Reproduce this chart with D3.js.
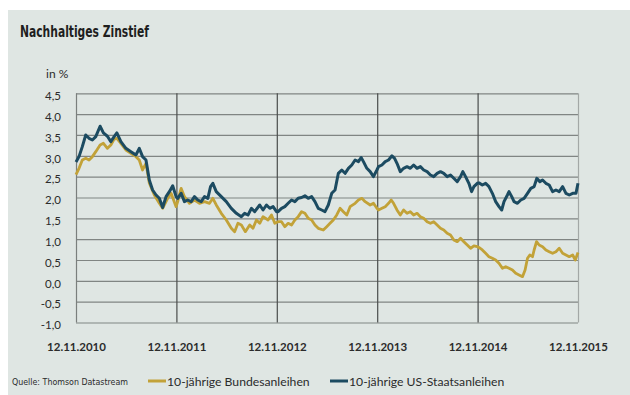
<!DOCTYPE html>
<html>
<head>
<meta charset="utf-8">
<script src="https://cdn.jsdelivr.net/npm/d3@7"></script>
<style>
  body { margin: 0; background: #fff; }
  #chart { width: 630px; height: 395px; }
</style>
</head>
<body>
<div id="chart"></div>
<script>
// Nachhaltiges Zinstief: 10-year yields, Germany vs. US

const title = "Nachhaltiges Zinstief";
const unitLabel = "in %";
const source = "Quelle: Thomson Datastream";

// x axis: decimal years, ticks on 12.11. of each year
const xTicks = [2010.87, 2011.87, 2012.87, 2013.87, 2014.87, 2015.87];
const xTickLabels = ["12.11.2010", "12.11.2011", "12.11.2012", "12.11.2013", "12.11.2014", "12.11.2015"];
const yTicks = [-1, -0.5, 0, 0.5, 1, 1.5, 2, 2.5, 3, 3.5, 4, 4.5];

const seriesNames = ["10-jährige Bundesanleihen", "10-jährige US-Staatsanleihen"];

// [decimal year, yield in %]
const bund = [
  [2010.870, 2.55], [2010.900, 2.70], [2010.933, 2.90], [2010.967, 2.94], [2011.000, 2.90],
  [2011.033, 2.98], [2011.067, 3.10], [2011.110, 3.26], [2011.143, 3.30], [2011.183, 3.18],
  [2011.217, 3.26], [2011.250, 3.40], [2011.277, 3.42], [2011.317, 3.30], [2011.367, 3.14],
  [2011.417, 3.06], [2011.467, 2.98], [2011.500, 2.90], [2011.533, 2.66], [2011.567, 2.82],
  [2011.600, 2.35], [2011.650, 2.06], [2011.700, 1.86], [2011.733, 1.74], [2011.783, 1.98],
  [2011.817, 2.10], [2011.867, 1.78], [2011.883, 1.90], [2011.917, 2.22], [2011.950, 2.02],
  [2012.000, 1.86], [2012.050, 1.94], [2012.100, 1.86], [2012.150, 1.90], [2012.200, 1.86],
  [2012.233, 1.98], [2012.267, 1.82], [2012.317, 1.62], [2012.367, 1.46], [2012.417, 1.26],
  [2012.450, 1.18], [2012.483, 1.38], [2012.517, 1.34], [2012.557, 1.18], [2012.600, 1.34],
  [2012.633, 1.26], [2012.667, 1.46], [2012.700, 1.38], [2012.733, 1.54], [2012.783, 1.46],
  [2012.817, 1.58], [2012.850, 1.38], [2012.883, 1.42], [2012.917, 1.42], [2012.950, 1.30],
  [2012.983, 1.38], [2013.017, 1.34], [2013.050, 1.46], [2013.083, 1.54], [2013.117, 1.66],
  [2013.150, 1.62], [2013.183, 1.50], [2013.217, 1.46], [2013.250, 1.34], [2013.283, 1.26],
  [2013.333, 1.22], [2013.367, 1.30], [2013.400, 1.38], [2013.433, 1.46], [2013.467, 1.58],
  [2013.500, 1.74], [2013.533, 1.66], [2013.567, 1.58], [2013.600, 1.78], [2013.650, 1.86],
  [2013.683, 1.94], [2013.717, 1.98], [2013.750, 1.90], [2013.800, 1.82], [2013.833, 1.86],
  [2013.867, 1.74], [2013.883, 1.70], [2013.917, 1.74], [2013.950, 1.78], [2013.983, 1.86],
  [2014.010, 1.94], [2014.033, 1.86], [2014.067, 1.70], [2014.100, 1.58], [2014.133, 1.70],
  [2014.167, 1.62], [2014.200, 1.66], [2014.233, 1.58], [2014.267, 1.62], [2014.300, 1.54],
  [2014.333, 1.50], [2014.367, 1.42], [2014.400, 1.38], [2014.433, 1.42], [2014.467, 1.34],
  [2014.500, 1.26], [2014.533, 1.22], [2014.567, 1.14], [2014.600, 1.10], [2014.633, 0.98],
  [2014.667, 0.94], [2014.700, 1.02], [2014.733, 0.94], [2014.767, 0.86], [2014.800, 0.78],
  [2014.833, 0.84], [2014.867, 0.82], [2014.883, 0.80], [2014.917, 0.74], [2014.950, 0.66],
  [2014.983, 0.58], [2015.017, 0.54], [2015.050, 0.50], [2015.083, 0.42], [2015.117, 0.30],
  [2015.150, 0.34], [2015.183, 0.30], [2015.217, 0.26], [2015.250, 0.18], [2015.283, 0.14],
  [2015.317, 0.10], [2015.343, 0.26], [2015.367, 0.54], [2015.390, 0.62], [2015.417, 0.58],
  [2015.433, 0.74], [2015.457, 0.94], [2015.483, 0.86], [2015.517, 0.82], [2015.550, 0.74],
  [2015.583, 0.70], [2015.617, 0.66], [2015.650, 0.70], [2015.683, 0.78], [2015.717, 0.66],
  [2015.750, 0.62], [2015.783, 0.58], [2015.817, 0.62], [2015.843, 0.50], [2015.870, 0.68]
];

const us = [
  [2010.870, 2.85], [2010.900, 2.98], [2010.933, 3.22], [2010.967, 3.50], [2011.000, 3.42],
  [2011.033, 3.38], [2011.067, 3.46], [2011.110, 3.71], [2011.143, 3.55], [2011.183, 3.47],
  [2011.217, 3.34], [2011.250, 3.46], [2011.277, 3.55], [2011.317, 3.34], [2011.367, 3.18],
  [2011.417, 3.10], [2011.467, 3.02], [2011.500, 3.18], [2011.533, 2.98], [2011.567, 2.90],
  [2011.600, 2.42], [2011.633, 2.18], [2011.667, 2.06], [2011.700, 1.98], [2011.733, 1.76],
  [2011.767, 2.02], [2011.800, 2.14], [2011.833, 2.28], [2011.867, 2.02], [2011.883, 1.98],
  [2011.917, 2.10], [2011.950, 1.90], [2011.983, 1.94], [2012.017, 1.90], [2012.050, 2.02],
  [2012.083, 1.94], [2012.117, 1.90], [2012.150, 2.02], [2012.183, 1.98], [2012.210, 2.26],
  [2012.233, 2.34], [2012.267, 2.14], [2012.317, 2.02], [2012.367, 1.90], [2012.417, 1.74],
  [2012.467, 1.62], [2012.517, 1.54], [2012.550, 1.62], [2012.583, 1.58], [2012.617, 1.74],
  [2012.650, 1.66], [2012.700, 1.82], [2012.733, 1.70], [2012.767, 1.82], [2012.800, 1.74],
  [2012.833, 1.78], [2012.867, 1.66], [2012.883, 1.66], [2012.917, 1.74], [2012.950, 1.78],
  [2012.983, 1.86], [2013.017, 1.94], [2013.050, 1.90], [2013.083, 1.98], [2013.117, 2.00],
  [2013.150, 2.04], [2013.183, 1.98], [2013.217, 2.02], [2013.250, 1.90], [2013.283, 1.74],
  [2013.317, 1.70], [2013.350, 1.66], [2013.383, 1.82], [2013.417, 2.10], [2013.450, 2.18],
  [2013.483, 2.58], [2013.517, 2.66], [2013.550, 2.58], [2013.583, 2.70], [2013.617, 2.78],
  [2013.650, 2.90], [2013.683, 2.86], [2013.710, 2.96], [2013.733, 2.86], [2013.767, 2.70],
  [2013.800, 2.62], [2013.833, 2.50], [2013.867, 2.66], [2013.883, 2.74], [2013.917, 2.78],
  [2013.950, 2.86], [2013.983, 2.90], [2014.017, 3.00], [2014.043, 2.94], [2014.067, 2.82],
  [2014.100, 2.62], [2014.133, 2.70], [2014.167, 2.74], [2014.200, 2.70], [2014.233, 2.78],
  [2014.267, 2.70], [2014.300, 2.74], [2014.333, 2.66], [2014.367, 2.62], [2014.400, 2.54],
  [2014.433, 2.50], [2014.467, 2.58], [2014.500, 2.62], [2014.533, 2.58], [2014.567, 2.50],
  [2014.600, 2.54], [2014.633, 2.46], [2014.667, 2.38], [2014.700, 2.50], [2014.723, 2.62],
  [2014.750, 2.50], [2014.783, 2.34], [2014.810, 2.14], [2014.833, 2.26], [2014.867, 2.34],
  [2014.883, 2.35], [2014.917, 2.30], [2014.950, 2.34], [2014.983, 2.26], [2015.017, 2.10],
  [2015.050, 1.90], [2015.083, 1.78], [2015.110, 1.70], [2015.133, 1.90], [2015.167, 2.06],
  [2015.183, 2.14], [2015.210, 2.02], [2015.233, 1.90], [2015.267, 1.86], [2015.300, 1.94],
  [2015.333, 1.98], [2015.367, 2.10], [2015.400, 2.22], [2015.433, 2.26], [2015.460, 2.46],
  [2015.490, 2.38], [2015.517, 2.42], [2015.550, 2.34], [2015.583, 2.30], [2015.617, 2.14],
  [2015.650, 2.18], [2015.683, 2.14], [2015.717, 2.26], [2015.750, 2.10], [2015.783, 2.06],
  [2015.817, 2.10], [2015.850, 2.10], [2015.870, 2.34]
];

const colors = { bund: "#c2a238", us: "#1c4b61" };

const width = 630;
const height = 395;
const margin = { top: 93.3, right: 52, bottom: 72.5, left: 76 };
const innerW = width - margin.left - margin.right;
const innerH = height - margin.top - margin.bottom;

const font = "'Liberation Sans Narrow', 'DejaVu Sans Condensed', sans-serif";
const textColor = "#2b2b2b";

const svg = d3.select("#chart").append("svg")
  .attr("width", width)
  .attr("height", height)
  .style("display", "block");

// panel background (white strip on top and left like the original)
svg.append("rect")
  .attr("x", 8).attr("y", 10)
  .attr("width", width - 8).attr("height", height - 10)
  .attr("fill", "#dfe6e3");

svg.append("text")
  .attr("x", 20).attr("y", 37)
  .attr("font-family", font)
  .attr("font-weight", "bold")
  .attr("font-size", 15)
  .attr("textLength", 129)
  .attr("lengthAdjust", "spacingAndGlyphs")
  .attr("fill", "#1e1e1e")
  .text(title);

svg.append("text")
  .attr("x", 46).attr("y", 78)
  .attr("font-family", "Lato, sans-serif")
  .attr("font-size", 12)
  .attr("fill", textColor)
  .text(unitLabel);

const x = d3.scaleLinear().domain([xTicks[0], xTicks[xTicks.length - 1]]).range([0, innerW]);
const y = d3.scaleLinear().domain([-1, 4.5]).range([innerH, 0]);

const de = d3.formatLocale({ decimal: ",", thousands: ".", grouping: [3], currency: ["", " €"], minus: "-" });
const fmt = de.format(".1f");

const chart = svg.append("g")
  .attr("transform", `translate(${margin.left},${margin.top})`);

// horizontal grid lines + y labels
chart.append("g")
  .call(d3.axisLeft(y).tickValues(yTicks).tickSize(-innerW).tickFormat(fmt).tickPadding(15))
  .call((g) => g.select(".domain").remove())
  .call((g) => g.selectAll(".tick line").attr("stroke", "#808583").attr("stroke-width", 1.2))
  .call((g) => g.selectAll(".tick text")
    .attr("font-family", "Lato, sans-serif")
    .attr("font-size", 11.5)
    .attr("fill", textColor)
    .attr("dy", "0.55em"));

// vertical year lines + x labels
chart.append("g")
  .attr("transform", `translate(0,${innerH})`)
  .call(d3.axisBottom(x).tickValues(xTicks).tickSize(-innerH)
    .tickFormat((d, i) => xTickLabels[i]).tickPadding(20))
  .call((g) => g.select(".domain").remove())
  .call((g) => g.selectAll(".tick line")
    .attr("stroke", (d, i) => (i === 0 ? "#7a7f7d" : i === xTicks.length - 1 ? "#a3a8a6" : "#4a4d4c"))
    .attr("stroke-width", 1.2))
  .call((g) => g.selectAll(".tick text")
    .attr("font-family", "Lato, sans-serif")
    .attr("font-weight", "bold")
    .attr("font-size", 11.5)
    .attr("fill", textColor));

const line = d3.line()
  .x((d) => x(d[0]))
  .y((d) => y(d[1]));

chart.append("path")
  .datum(bund)
  .attr("fill", "none")
  .attr("stroke", colors.bund)
  .attr("stroke-width", 2.8)
  .attr("stroke-linejoin", "round")
  .attr("d", line);

chart.append("path")
  .datum(us)
  .attr("fill", "none")
  .attr("stroke", colors.us)
  .attr("stroke-width", 3)
  .attr("stroke-linejoin", "round")
  .attr("d", line);

// footer: source + legend
svg.append("text")
  .attr("x", 12).attr("y", 385)
  .attr("font-family", font)
  .attr("font-size", 9)
  .attr("textLength", 116)
  .attr("lengthAdjust", "spacingAndGlyphs")
  .attr("fill", textColor)
  .text(source);

const legend = svg.append("g").attr("font-family", "Lato, sans-serif").attr("font-size", 12.2);
const legendX = [148, 330];
[colors.bund, colors.us].forEach((c, i) => {
  const item = legend.append("g").attr("transform", `translate(${legendX[i]},381)`);
  item.append("line").attr("x1", 0).attr("x2", 18).attr("stroke", c).attr("stroke-width", 3);
  item.append("text").attr("x", 19).attr("y", 4.5).attr("fill", textColor).text(seriesNames[i]);
});
</script>
</body>
</html>
